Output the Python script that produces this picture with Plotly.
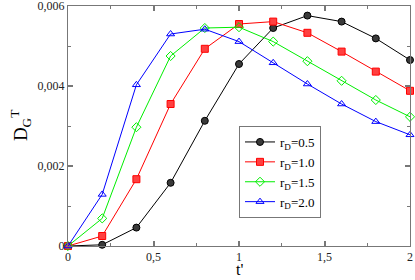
import plotly.graph_objects as go

t = [0.0, 0.2, 0.4, 0.6, 0.8, 1.0, 1.2, 1.4, 1.6, 1.8, 2.0]
d_05 = [0.0, 0.00003, 0.00046, 0.00158, 0.00313, 0.00455, 0.00545, 0.00576, 0.00561, 0.00519, 0.00465]
d_10 = [0.0, 0.00025, 0.00167, 0.00355, 0.00493, 0.00555, 0.00561, 0.00533, 0.00486, 0.00436, 0.00388]
d_15 = [0.0, 0.00069, 0.00297, 0.00475, 0.00545, 0.00547, 0.00511, 0.00462, 0.00413, 0.00365, 0.00323]
d_20 = [0.0, 0.00129, 0.00403, 0.00530, 0.00542, 0.00511, 0.00458, 0.00405, 0.00355, 0.00311, 0.00278]

series_names = ["r<sub>D</sub>=0.5", "r<sub>D</sub>=1.0", "r<sub>D</sub>=1.5", "r<sub>D</sub>=2.0"]

x_tickvals = [0, 0.5, 1, 1.5, 2]
x_ticktext = ["0", "0,5", "1", "1,5", "2"]
y_tickvals = [0, 0.002, 0.004, 0.006]
y_ticktext = ["0", "0,002", "0,004", "0,006"]

styles = [
    dict(color="black", symbol="circle", fill="#3a3a3a"),
    dict(color="#ff0000", symbol="square", fill="#ff4040"),
    dict(color="#00ee00", symbol="diamond-open", fill="#00ee00"),
    dict(color="#0000ff", symbol="triangle-up-open", fill="#0000ff"),
]

fig = go.Figure()
for name, ys, st in zip(series_names, [d_05, d_10, d_15, d_20], styles):
    fig.add_trace(go.Scatter(
        x=t, y=ys, name=name, mode="lines+markers", cliponaxis=False,
        line=dict(color=st["color"], width=1),
        marker=dict(symbol=st["symbol"], size=7, color=st["fill"],
                    line=dict(color=st["color"], width=1)),
    ))

axis_common = dict(
    showline=True, linecolor="#777777", linewidth=1, mirror="ticks",
    ticks="inside", ticklen=5, tickwidth=2, tickcolor="#777777",
    showgrid=False, zeroline=False, automargin=False,
    ticklabeloverflow="allow",
    tickfont=dict(family="Liberation Serif", size=12, color="#222222"),
)

fig.update_xaxes(
    range=[-0.000001, 2.000001], tickvals=x_tickvals, ticktext=x_ticktext,
    minor=dict(ticks="inside", ticklen=3, tickwidth=1, tickcolor="#777777", dtick=0.25, showgrid=False),
    **axis_common,
)
fig.update_yaxes(
    range=[-0.000000001, 0.006000001], tickvals=y_tickvals, ticktext=y_ticktext,
    minor=dict(ticks="inside", ticklen=3, tickwidth=1, tickcolor="#777777", dtick=0.001, showgrid=False),
    **axis_common,
)

fig.add_annotation(text="t'", xref="paper", yref="paper", x=0.5, y=-0.1417,
                   xanchor="center", yanchor="bottom", showarrow=False,
                   font=dict(family="Liberation Serif", size=16, color="black"))
fig.add_annotation(text="D<sub>G</sub><sup>T</sup>", xref="paper", yref="paper", x=-0.14, y=0.5,
                   xanchor="center", yanchor="middle", showarrow=False, textangle=-90,
                   font=dict(family="Liberation Serif", size=19, color="black"))

fig.update_layout(
    width=415, height=280,
    margin=dict(l=68, r=5, t=6, b=34),
    paper_bgcolor="white", plot_bgcolor="white",
    showlegend=True,
    legend=dict(
        x=0.5, y=0.5, xanchor="left", yanchor="top",
        bgcolor="white", bordercolor="#777777", borderwidth=1,
        font=dict(family="Liberation Serif", size=13, color="black"),
        tracegroupgap=0, itemwidth=30,
    ),
)

fig.write_html("out.html", config={"displayModeBar": False},
               post_script="document.body.style.margin='0';document.body.style.overflow='hidden';")
